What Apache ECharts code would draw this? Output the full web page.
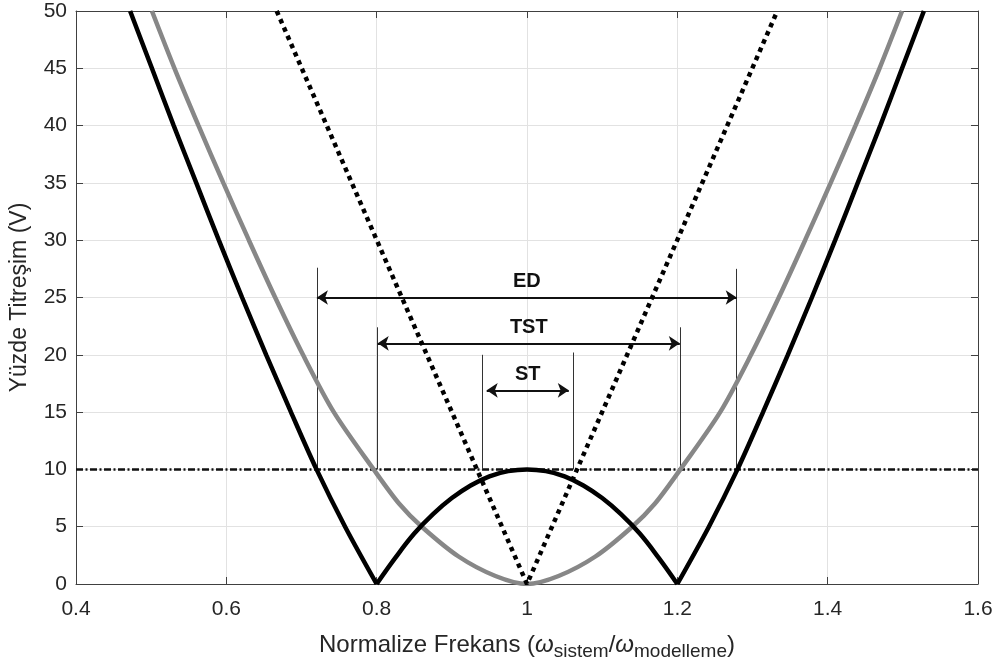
<!DOCTYPE html>
<html>
<head>
<meta charset="utf-8">
<script src="https://cdn.jsdelivr.net/npm/echarts@6/dist/echarts.min.js"></script>
<style>html,body{margin:0;padding:0;background:#fff}#c{width:998px;height:669px}</style>
</head>
<body>
<div id="c"></div>
<script>
// ---- data ----
const xTicks = [0.4, 0.6, 0.8, 1, 1.2, 1.4, 1.6];
const yTicks = [0, 5, 10, 15, 20, 25, 30, 35, 40, 45, 50];

const blackLeftX = [0.472, 0.501, 0.530, 0.560, 0.590, 0.621, 0.653, 0.686, 0.720, 0.758, 0.8];
const blackLeftY = [50, 45, 40, 35, 30, 25, 20, 15, 10, 5, 0];
const humpX = [0.8, 0.825, 0.85, 0.875, 0.9, 0.925, 0.95, 0.975, 1.0, 1.025, 1.05, 1.075, 1.1, 1.125, 1.15, 1.175, 1.2];
const humpY = [0, 2.3, 4.4, 6.1, 7.5, 8.6, 9.4, 9.85, 10, 9.85, 9.4, 8.6, 7.5, 6.1, 4.4, 2.3, 0];
const blackRightX = [1.2, 1.242, 1.280, 1.314, 1.347, 1.379, 1.410, 1.440, 1.470, 1.499, 1.528];
const blackRightY = [0, 5, 10, 15, 20, 25, 30, 35, 40, 45, 50];

const grayX = [0.501, 0.531, 0.563, 0.596, 0.630, 0.665, 0.702, 0.743, 0.796, 0.83, 0.86, 0.909, 0.958, 1.0, 1.042, 1.091, 1.14, 1.17, 1.204, 1.257, 1.298, 1.335, 1.370, 1.404, 1.437, 1.469, 1.499];
const grayY = [50, 45, 40, 35, 30, 25, 20, 15, 10, 7.0, 5, 2.4, 0.7, 0, 0.7, 2.4, 5, 7.0, 10, 15, 20, 25, 30, 35, 40, 45, 50];

const dottedX = [0.667, 1.0, 1.333];
const dottedY = [50, 0, 50];

const thresholdX = [0.4, 1.6];
const thresholdY = [10, 10];

// band markers: name, vertical line positions, arrow level and ends, vertical line tops
const bandNames = ['ED', 'TST', 'ST'];
const bandLeft = [0.7205, 0.8014, 0.9411];
const bandRight = [1.279, 1.2033, 1.0619];
const bandArrowY = [25, 21, 16.9];
const bandArrowLeft = [0.7205, 0.8014, 0.9464];
const bandArrowRight = [1.279, 1.2033, 1.0556];
const bandTopLeft = [27.6, 22.4, 20.0];
const bandTopRight = [27.5, 22.4, 20.2];

// ---- build ----
const zip = (xs, ys) => xs.map((x, i) => [x, ys[i]]);
const FONT = 'Liberation Sans, Arial, Helvetica, sans-serif';
const TXT = '#262626';

const vLines = [];
const arrows = [];
bandNames.forEach((n, i) => {
  vLines.push([{coord: [bandLeft[i], 10]}, {coord: [bandLeft[i], bandTopLeft[i]]}]);
  vLines.push([{coord: [bandRight[i], 10]}, {coord: [bandRight[i], bandTopRight[i]]}]);
  arrows.push([{coord: [bandArrowLeft[i], bandArrowY[i]], name: n}, {coord: [bandArrowRight[i], bandArrowY[i]]}]);
});

const chart = echarts.init(document.getElementById('c'), null, {renderer: 'canvas'});
const axisCommon = {
  type: 'value',
  axisLine: {show: true, onZero: false, lineStyle: {color: '#404040', width: 1}},
  axisTick: {show: true, inside: true, length: 7, lineStyle: {color: '#404040'}},
};
chart.setOption({
  animation: false,
  backgroundColor: '#fff',
  grid: {left: 73, right: 20, top: 11, bottom: 85, containLabel: false},
  xAxis: [
    Object.assign({}, axisCommon, {
      min: xTicks[0], max: xTicks[xTicks.length - 1], interval: 0.2,
      axisLabel: {fontSize: 21, color: TXT, fontFamily: FONT, margin: 15},
      splitLine: {show: true, lineStyle: {color: '#e2e2e2', width: 1}},
      name: '{a|Normalize Frekans (}{w|ω}{s|sistem}{a|/}{w|ω}{s|modelleme}{a|)}',
      nameLocation: 'middle', nameGap: 39,
      nameTextStyle: {
        rich: {
          a: {fontSize: 24, color: TXT, fontFamily: FONT, verticalAlign: 'top', lineHeight: 28},
          w: {fontSize: 24, color: TXT, fontFamily: FONT, fontStyle: 'italic', verticalAlign: 'top', lineHeight: 28},
          s: {fontSize: 19, color: TXT, fontFamily: FONT, verticalAlign: 'bottom', lineHeight: 20, padding: [17, 0, 0, 0]}
        }
      }
    }),
    Object.assign({}, axisCommon, {
      position: 'top', min: xTicks[0], max: xTicks[xTicks.length - 1], interval: 0.2,
      axisLabel: {show: false}, splitLine: {show: false}
    })
  ],
  yAxis: [
    Object.assign({}, axisCommon, {
      min: yTicks[0], max: yTicks[yTicks.length - 1], interval: 5,
      axisLabel: {fontSize: 21, color: TXT, fontFamily: FONT, margin: 9},
      splitLine: {show: true, lineStyle: {color: '#e2e2e2', width: 1}},
      name: 'Yüzde Titreşim (V)', nameLocation: 'middle', nameGap: 45, nameRotate: 90,
      nameTextStyle: {fontSize: 23, color: TXT, fontFamily: FONT}
    }),
    Object.assign({}, axisCommon, {
      position: 'right', min: yTicks[0], max: yTicks[yTicks.length - 1], interval: 5,
      axisLabel: {show: false}, splitLine: {show: false}
    })
  ],
  series: [
    {
      type: 'line', data: zip(thresholdX, thresholdY), showSymbol: false, symbol: 'none', z: 3,
      lineStyle: {color: '#111', width: 2.5, type: [7, 2.5, 2, 2.5]},
      markLine: {
        silent: true, symbol: ['none', 'none'], animation: false,
        lineStyle: {color: '#333', width: 1, type: 'solid'},
        label: {show: false},
        data: vLines
      }
    },
    {
      type: 'line', data: [], z: 4,
      markLine: {
        silent: true, symbol: ['arrow', 'arrow'], symbolSize: [11, 11], animation: false,
        lineStyle: {color: '#111', width: 2, type: 'solid'},
        label: {show: true, position: 'middle', formatter: '{b}', fontSize: 20, fontWeight: 'bold', color: '#111', fontFamily: FONT, distance: 6},
        emphasis: {disabled: true},
        data: arrows
      }
    },
    {
      type: 'line', data: zip(grayX, grayY), showSymbol: false, symbol: 'none', smooth: 0.3, z: 5,
      lineStyle: {color: '#878787', width: 4.5}
    },
    {
      type: 'line', data: zip(blackLeftX, blackLeftY), showSymbol: false, symbol: 'none', smooth: 0.3, z: 6,
      lineStyle: {color: '#000', width: 4.5}
    },
    {
      type: 'line', data: zip(humpX, humpY), showSymbol: false, symbol: 'none', smooth: 0.4, z: 6,
      lineStyle: {color: '#000', width: 4.5}
    },
    {
      type: 'line', data: zip(blackRightX, blackRightY), showSymbol: false, symbol: 'none', smooth: 0.3, z: 6,
      lineStyle: {color: '#000', width: 4.5}
    },
    {
      type: 'line', data: zip(dottedX, dottedY), showSymbol: false, symbol: 'none', z: 7,
      lineStyle: {color: '#000', width: 4.5, type: [4.5, 4.5]}
    }
  ]
});
</script>
</body>
</html>
